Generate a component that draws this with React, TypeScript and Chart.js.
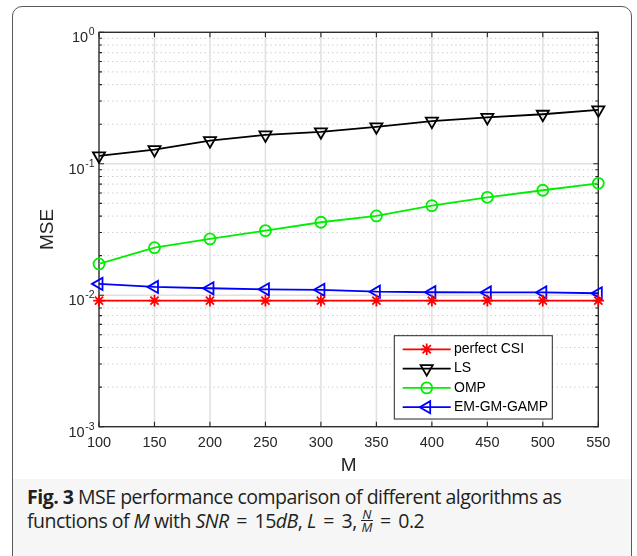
import React, { useEffect, useRef } from 'react';
import { Chart, registerables } from 'chart.js';
import { drawPoint } from 'chart.js/helpers';

Chart.register(...registerables);

// ---------------- data ----------------
const mValues = [100, 150, 200, 250, 300, 350, 400, 450, 500, 550];
const perfectCSI = [0.0091, 0.0091, 0.0091, 0.0091, 0.0091, 0.0091, 0.0091, 0.0091, 0.0091, 0.0091];
const lsMSE = [0.115, 0.128, 0.150, 0.166, 0.175, 0.191, 0.211, 0.225, 0.238, 0.257];
const ompMSE = [0.0173, 0.0230, 0.0268, 0.0310, 0.0359, 0.0401, 0.0480, 0.0556, 0.0629, 0.0710];
const emgmMSE = [0.0122, 0.01156, 0.0113, 0.0111, 0.0110, 0.01064, 0.01054, 0.0105, 0.0105, 0.01035];
const seriesNames = ['perfect CSI', 'LS', 'OMP', 'EM-GM-GAMP'];
const xTickValues = [100, 150, 200, 250, 300, 350, 400, 450, 500, 550];
const yDecadeExponents = [-3, -2, -1, 0];
const yMinorMultipliers = [2, 3, 4, 5, 6, 7, 8, 9];
const xAxisTitle = 'M';
const yAxisTitle = 'MSE';

const FONT = '"Liberation Sans", Arial, Helvetica, sans-serif';
const AXIS = '#262626';

const yTickValues: number[] = [];
yDecadeExponents.forEach((e, i) => {
  yTickValues.push(Math.pow(10, e));
  if (i < yDecadeExponents.length - 1) {
    yMinorMultipliers.forEach((m) => yTickValues.push(m * Math.pow(10, e)));
  }
});

const matlabAxes = {
  id: 'matlabAxes',
  beforeDatasetsDraw(chart: any) {
    const { ctx, chartArea: ca, scales } = chart;
    const x = scales.x;
    const y = scales.y;
    ctx.save();
    // minor dotted grid
    ctx.lineWidth = 1;
    ctx.strokeStyle = '#c4c4c4';
    ctx.setLineDash([1.2, 3.2]);
    yDecadeExponents.slice(0, -1).forEach((e) => {
      yMinorMultipliers.forEach((m) => {
        const py = y.getPixelForValue(m * Math.pow(10, e));
        ctx.beginPath();
        ctx.moveTo(ca.left, py);
        ctx.lineTo(ca.right, py);
        ctx.stroke();
      });
    });
    ctx.setLineDash([]);
    // major grid
    ctx.strokeStyle = '#e0e0e0';
    ctx.lineWidth = 1.5;
    yDecadeExponents.forEach((e) => {
      const py = y.getPixelForValue(Math.pow(10, e));
      ctx.beginPath();
      ctx.moveTo(ca.left, py);
      ctx.lineTo(ca.right, py);
      ctx.stroke();
    });
    xTickValues.forEach((v) => {
      const px = x.getPixelForValue(v);
      ctx.beginPath();
      ctx.moveTo(px, ca.top);
      ctx.lineTo(px, ca.bottom);
      ctx.stroke();
    });
    // box
    ctx.strokeStyle = AXIS;
    ctx.lineWidth = 1.3;
    ctx.strokeRect(ca.left, ca.top, ca.right - ca.left, ca.bottom - ca.top);
    // ticks
    ctx.lineWidth = 1.1;
    xTickValues.forEach((v) => {
      const px = x.getPixelForValue(v);
      ctx.beginPath();
      ctx.moveTo(px, ca.bottom);
      ctx.lineTo(px, ca.bottom - 5);
      ctx.moveTo(px, ca.top);
      ctx.lineTo(px, ca.top + 5);
      ctx.stroke();
    });
    yTickValues.forEach((v) => {
      const py = y.getPixelForValue(v);
      const isMajor = Math.abs(Math.log10(v) - Math.round(Math.log10(v))) < 1e-9;
      const len = isMajor ? 5 : 3;
      ctx.beginPath();
      ctx.moveTo(ca.left, py);
      ctx.lineTo(ca.left + len, py);
      ctx.moveTo(ca.right, py);
      ctx.lineTo(ca.right - len, py);
      ctx.stroke();
    });
    // y tick labels 10^e
    ctx.fillStyle = AXIS;
    ctx.textAlign = 'left';
    ctx.textBaseline = 'alphabetic';
    yDecadeExponents.forEach((e) => {
      const py = y.getPixelForValue(Math.pow(10, e));
      const expText = String(e);
      ctx.font = `10.5px ${FONT}`;
      const expW = ctx.measureText(expText).width;
      ctx.font = `14.5px ${FONT}`;
      const baseW = ctx.measureText('10').width;
      const right = ca.left - 4.5;
      ctx.fillText('10', right - expW - baseW - 0.5, py + 10);
      ctx.font = `10.5px ${FONT}`;
      ctx.fillText(expText, right - expW, py + 3);
    });
    ctx.restore();
  },
  afterDatasetsDraw(chart: any) {
    const { ctx, chartArea: ca } = chart;
    const bw = 158;
    const bh = 83.3;
    const bx = ca.right - 46 - bw;
    const by = ca.bottom - 7.7 - bh;
    ctx.save();
    ctx.fillStyle = '#ffffff';
    ctx.fillRect(bx, by, bw, bh);
    ctx.strokeStyle = AXIS;
    ctx.lineWidth = 1;
    ctx.strokeRect(bx, by, bw, bh);
    chart.data.datasets.forEach((ds: any, i: number) => {
      const cy = by + 13.6 + i * 19.3;
      ctx.strokeStyle = ds.borderColor;
      ctx.lineWidth = ds.borderWidth;
      ctx.beginPath();
      ctx.moveTo(bx + 8.4, cy);
      ctx.lineTo(bx + 56.4, cy);
      ctx.stroke();
      ctx.fillStyle = 'rgba(0,0,0,0)';
      ctx.strokeStyle = ds.borderColor;
      ctx.lineWidth = ds.pointBorderWidth;
      drawPoint(ctx, { pointStyle: ds.pointStyle, rotation: ds.pointRotation || 0, radius: ds.pointRadius, borderWidth: ds.pointBorderWidth }, bx + 32.4, cy);
      ctx.fillStyle = '#000';
      ctx.font = `14px ${FONT}`;
      ctx.textAlign = 'left';
      ctx.textBaseline = 'middle';
      ctx.fillText(ds.label, bx + 59.7, cy);
    });
    ctx.restore();
  },
};

function makeDataset(label: string, values: number[], color: string, pointStyle: string, radius: number, rotation = 0) {
  return {
    label,
    data: mValues.map((m, i) => ({ x: m, y: values[i] })),
    borderColor: color,
    backgroundColor: color,
    borderWidth: 1.8,
    pointStyle,
    pointRadius: radius,
    pointHoverRadius: radius,
    pointRotation: rotation,
    pointBorderColor: color,
    pointBackgroundColor: 'rgba(0,0,0,0)',
    pointBorderWidth: 1.8,
    tension: 0,
    clip: false,
  };
}

const Eq = () => <span style={{ margin: '0 3px' }}>=</span>;

export default function App() {
  const canvasRef = useRef<HTMLCanvasElement | null>(null);

  useEffect(() => {
    document.body.style.margin = '0';
    const canvas = canvasRef.current;
    if (!canvas) return;
    const chart = new Chart(canvas, {
      type: 'line',
      data: {
        datasets: [
          makeDataset(seriesNames[0], perfectCSI, '#ff0000', 'star', 5.8),
          makeDataset(seriesNames[1], lsMSE, '#000000', 'triangle', 7, 180),
          makeDataset(seriesNames[2], ompMSE, '#00ee00', 'circle', 5.5),
          makeDataset(seriesNames[3], emgmMSE, '#0000ff', 'triangle', 7, 270),
        ] as any,
      },
      options: {
        animation: false,
        responsive: false,
        devicePixelRatio: 1,
        events: [],
        layout: { padding: { left: 0, right: 38.7, top: 32.3, bottom: 0 } },
        font: { family: FONT },
        plugins: { legend: { display: false }, tooltip: { enabled: false } },
        scales: {
          x: {
            type: 'linear',
            min: 100,
            max: 550,
            position: 'bottom',
            afterBuildTicks: (s: any) => {
              s.ticks = xTickValues.map((v) => ({ value: v }));
            },
            ticks: {
              font: { size: 14.5, family: FONT },
              color: AXIS,
              padding: 8,
              maxRotation: 0,
              autoSkip: false,
              callback: (v: any) => String(v),
            },
            grid: { display: false, drawTicks: false },
            border: { display: false },
            title: {
              display: true,
              text: xAxisTitle,
              font: { size: 19, family: FONT },
              color: AXIS,
              padding: { top: 0, bottom: 3 },
            },
            afterFit: (s: any) => {
              s.height = 53.3;
            },
          },
          y: {
            type: 'logarithmic',
            min: 0.001,
            max: 1,
            position: 'left',
            afterBuildTicks: (s: any) => {
              s.ticks = yTickValues.map((v) => ({ value: v }));
            },
            ticks: { display: false },
            grid: { display: false, drawTicks: false },
            border: { display: false },
            title: {
              display: true,
              text: yAxisTitle,
              font: { size: 19, family: FONT },
              color: AXIS,
              padding: { top: 36.3, bottom: 0 },
            },
            afterFit: (s: any) => {
              s.width = 99;
            },
          },
        },
      } as any,
      plugins: [matlabAxes],
    });
    return () => chart.destroy();
  }, []);

  const cap: React.CSSProperties = {
    position: 'absolute',
    left: 27,
    whiteSpace: 'nowrap',
    fontFamily: '"Open Sans", "Noto Sans", sans-serif',
    fontSize: 19.5,
    letterSpacing: -0.5,
    lineHeight: '24px',
    color: '#231f20',
  };

  return (
    <div style={{ position: 'fixed', left: 0, top: 0, width: 637, height: 556, overflow: 'hidden', background: '#fff' }}>
      <div
        style={{
          position: 'absolute',
          left: 12,
          top: 6,
          width: 620,
          height: 620,
          border: '1.5px solid #5a5a5a',
          borderRadius: 10,
          overflow: 'hidden',
          boxSizing: 'border-box',
        }}
      >
        <div style={{ position: 'absolute', left: 0, right: 0, top: 472, bottom: 0, background: '#f6f6f6' }} />
      </div>
      <canvas ref={canvasRef} width={637} height={480} style={{ position: 'absolute', left: 0, top: 0, width: 637, height: 480 }} />
      <div style={{ ...cap, top: 485 }}>
        <b>Fig. 3</b> MSE performance comparison of different algorithms as
      </div>
      <div style={{ ...cap, top: 509 }}>
        functions of <i>M</i> with <i>SNR</i> <Eq /> 15<i>dB</i>, <i>L</i> <Eq /> 3,{' '}
        <span style={{ display: 'inline-flex', flexDirection: 'column', alignItems: 'center', verticalAlign: 'middle', fontSize: 13, lineHeight: '12px', fontStyle: 'italic', letterSpacing: 0, position: 'relative', top: -2 }}>
          <span style={{ borderBottom: '1px solid #231f20', padding: '0 1px' }}>N</span>
          <span>M</span>
        </span>{' '}
        <Eq /> 0.2
      </div>
    </div>
  );
}
